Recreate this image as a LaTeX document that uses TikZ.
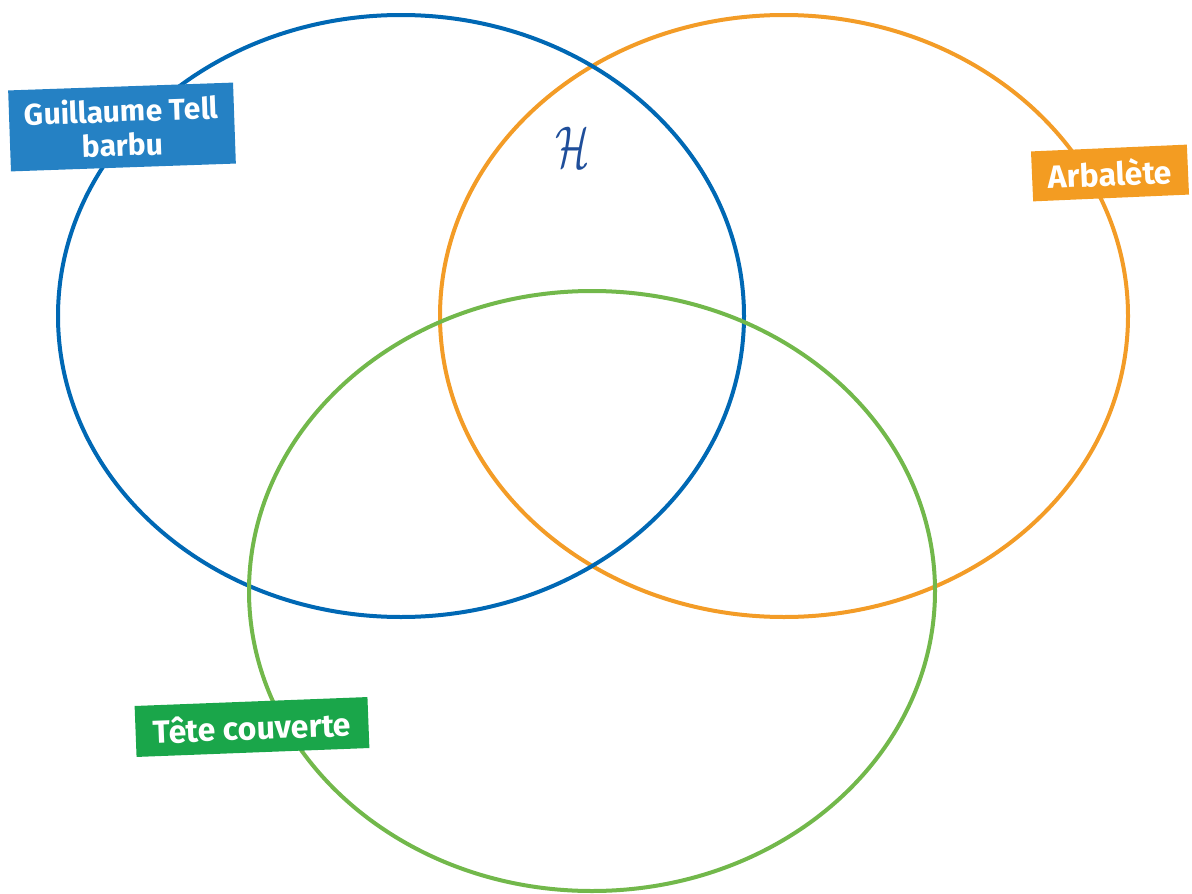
\documentclass[tikz,border=0pt]{standalone}
\usepackage{fontspec}
\setmainfont{Fira Sans}
\definecolor{cblue}{HTML}{0068B4}
\definecolor{corange}{HTML}{F39C27}
\definecolor{cgreen}{HTML}{72B84B}
\definecolor{fblue}{HTML}{2581C4}
\definecolor{forange}{HTML}{F39C22}
\definecolor{fgreen}{HTML}{1AA64A}
\definecolor{hblue}{HTML}{1F4E9A}
\tikzset{
  venn/.style={draw=#1, line width=4pt},
  tag/.style={fill=#1, text=white, font=\fontsize{30}{34}\selectfont\bfseries, align=center, inner sep=0pt, anchor=center},
  bigtag/.style={tag=#1, font=\fontsize{32}{34}\selectfont\bfseries},
}
\begin{document}
\begin{tikzpicture}[x=1pt,y=-1pt]
\useasboundingbox (0,0) rectangle (1192,894);
\path[venn=corange] (784,316) ellipse [x radius=344, y radius=301];
\path[venn=cblue] (401,316) ellipse [x radius=343, y radius=301];
\path[venn=cgreen] (592,591) ellipse [x radius=343, y radius=300];
\node[tag=fblue, minimum width=225pt, minimum height=81pt, rotate=2] (tell) at (122,127) {Guillaume Tell\\barbu};
\node[bigtag=forange, minimum width=156pt, minimum height=50pt, rotate=2.5] (arb) at (1110,173) {Arbalète};
\node[bigtag=fgreen, minimum width=233pt, minimum height=51pt, rotate=2.2] (tete) at (252,727) {Tête couverte};
\node[text=hblue, xscale=4, yscale=5.9, inner sep=0pt] (h) at (573,147) {$\mathcal{H}$};
\end{tikzpicture}
\end{document}
